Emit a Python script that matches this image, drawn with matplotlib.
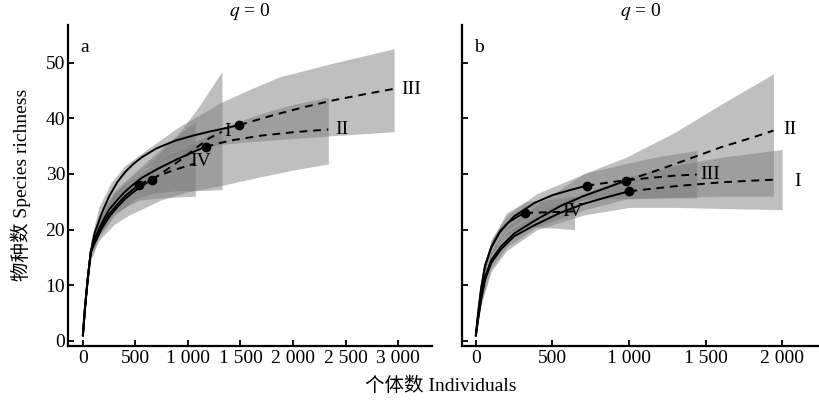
import numpy as np
import matplotlib
matplotlib.use('Agg')
import matplotlib.pyplot as plt

plt.rcParams['font.family'] = ['Liberation Serif', 'Noto Sans CJK SC']
plt.rcParams['mathtext.fontset'] = 'stix'

# ---- panel a (q = 0) ----
# rarefaction (solid) up to the observed sample, extrapolation (dashed) to 2x
a_I_rx = [0, 20, 45, 75, 110, 180, 250, 330, 400, 470, 535, 600, 662]
a_I_ry = [1, 6, 11, 16, 17.5, 20.2, 22.3, 24.1, 25.5, 26.6, 27.5, 28.3, 29.0]
a_I_ex = [662, 800, 950, 1100, 1200, 1324]
a_I_ey = [29.0, 30.8, 32.8, 35.0, 36.4, 37.6]

a_II_rx = [0, 20, 45, 75, 110, 180, 250, 330, 400, 480, 560, 720, 880, 1030, 1168]
a_II_ry = [1, 6, 11, 16, 18.3, 21.2, 23.6, 25.4, 26.8, 28.1, 29.3, 31.0, 32.5, 33.8, 34.9]
a_II_ex = [1168, 1400, 1700, 2000, 2336]
a_II_ey = [34.9, 36.0, 36.9, 37.5, 38.0]

a_III_rx = [0, 20, 45, 75, 110, 180, 250, 330, 400, 480, 560, 700, 880, 1050, 1200, 1350, 1490]
a_III_ry = [1, 6, 11, 16, 19.3, 23.0, 26.0, 28.6, 30.3, 31.8, 33.0, 34.6, 36.0, 36.9, 37.6, 38.2, 38.8]
a_III_ex = [1490, 1800, 2100, 2400, 2700, 2962]
a_III_ey = [38.8, 40.5, 42.0, 43.3, 44.4, 45.3]

a_IV_rx = [0, 20, 45, 75, 110, 180, 250, 330, 400, 470, 535]
a_IV_ry = [1, 6, 11, 16, 17.8, 20.7, 22.8, 24.6, 26.0, 27.1, 28.1]
a_IV_ex = [535, 700, 850, 1000, 1070]
a_IV_ey = [28.1, 29.5, 30.6, 31.5, 31.9]

# confidence bands
a_I_bx = [0, 45, 75, 150, 300, 500, 662, 900, 1100, 1324]
a_I_lo = [1, 10, 15, 18.5, 22.5, 25.5, 26.5, 27.0, 27.0, 27.2]
a_I_hi = [1, 12, 17.5, 22, 26.5, 30, 32.5, 37, 42, 48.4]

a_II_bx = [0, 45, 75, 150, 300, 427, 740, 1000, 1310, 1690, 2000, 2336]
a_II_lo = [1, 10, 14.5, 18, 21, 22.5, 25.3, 26.8, 27.9, 29.5, 30.7, 31.8]
a_II_hi = [1, 12, 17, 21.5, 26.5, 28.5, 32.5, 35, 38.3, 40.8, 42.5, 43.8]

a_III_bx = [0, 45, 75, 150, 266, 400, 580, 900, 1310, 1600, 1880, 2400, 2962]
a_III_lo = [1, 11, 16, 20.5, 25, 28, 31, 33.5, 35.3, 35.8, 36.2, 36.9, 37.6]
a_III_hi = [1, 12.5, 18, 24, 28.4, 31.5, 34, 38.3, 42.8, 45.3, 47.5, 50, 52.5]

a_IV_bx = [0, 45, 75, 150, 300, 535, 800, 1070]
a_IV_lo = [1, 10, 15, 19, 23, 25.3, 25.8, 26.0]
a_IV_hi = [1, 12, 17.5, 22.5, 27, 31, 35.5, 39.4]

a_obs_x = [662, 1168, 1490, 535]
a_obs_y = [29.0, 34.9, 38.8, 28.1]
a_lab = ['I', 'II', 'III', 'IV']
a_lab_x = [1377, 2468, 3124, 1120]
a_lab_y = [37.6, 38.0, 45.1, 32.3]

# ---- panel b (q = 0) ----
b_I_rx = [0, 15, 35, 60, 100, 165, 250, 383, 549, 700, 850, 1002]
b_I_ry = [1, 4, 7.5, 11, 14, 16.5, 18.8, 20.8, 23.0, 24.6, 25.8, 26.9]
b_I_ex = [1002, 1300, 1600, 1800, 1975]
b_I_ey = [26.9, 27.8, 28.5, 28.8, 29.0]

b_II_rx = [0, 15, 35, 60, 100, 165, 250, 383, 549, 700, 850, 980]
b_II_ry = [1, 4, 8, 11.5, 14.5, 17, 19.3, 21.6, 24.2, 26.0, 27.5, 28.8]
b_II_ex = [980, 1200, 1400, 1600, 1800, 1943]
b_II_ey = [28.8, 30.8, 32.8, 34.8, 36.5, 37.8]

b_III_rx = [0, 15, 35, 60, 100, 160, 250, 383, 500, 601, 723]
b_III_ry = [1, 5, 9.5, 13.5, 16.8, 19.8, 22.4, 24.8, 26.2, 27.0, 27.9]
b_III_ex = [723, 900, 1100, 1300, 1442]
b_III_ey = [27.9, 28.6, 29.2, 29.7, 29.9]

b_IV_rx = [0, 15, 35, 60, 100, 150, 209, 270, 322]
b_IV_ry = [1, 5, 9.5, 13.5, 16.8, 19.3, 21.2, 22.3, 23.0]
b_IV_ex = [322, 450, 550, 644]
b_IV_ey = [23.0, 23.1, 23.2, 23.3]

b_I_bx = [0, 35, 100, 200, 400, 700, 1002, 1300, 1600, 2000]
b_I_lo = [1, 6.5, 12.5, 16.2, 20, 22.6, 24, 24, 23.8, 23.6]
b_I_hi = [1, 8.5, 15.5, 19.5, 23, 26.5, 29.5, 31.5, 33, 34.4]

b_II_bx = [0, 35, 100, 200, 400, 700, 980, 1300, 1600, 1943]
b_II_lo = [1, 7, 13, 16.8, 20.5, 23.5, 25.5, 25.8, 26, 26]
b_II_hi = [1, 9, 16, 20.5, 24.5, 30, 33, 37.5, 42.5, 48]

b_III_bx = [0, 35, 100, 200, 400, 723, 1000, 1200, 1442]
b_III_lo = [1, 8.5, 15.5, 20, 23, 25.5, 25.6, 25.7, 25.7]
b_III_hi = [1, 10.5, 18.2, 22.5, 26.5, 30.2, 32, 33.2, 34.2]

b_IV_bx = [0, 35, 100, 200, 322, 500, 644]
b_IV_lo = [1, 8.5, 15.5, 19, 20.5, 20.3, 20.0]
b_IV_hi = [1, 10.5, 18, 23, 25, 25.5, 26]

b_obs_x = [1002, 980, 723, 322]
b_obs_y = [26.9, 28.8, 27.9, 23.0]
b_lab = ['I', 'II', 'III', 'IV']
b_lab_x = [2098, 2052, 1530, 634]
b_lab_y = [28.6, 38.0, 29.9, 23.3]

y_ticks = [0, 10, 20, 30, 40, 50]
a_xticks = [0, 500, 1000, 1500, 2000, 2500, 3000]
a_xlabels = ['0', '500', '1 000', '1 500', '2 000', '2 500', '3 000']
b_xticks = [0, 500, 1000, 1500, 2000]
b_xlabels = ['0', '500', '1 000', '1 500', '2 000']

fig = plt.figure(figsize=(8.19, 4.07), dpi=100)
ax_a = fig.add_axes([0.083, 0.150, 0.4445, 0.789])
ax_b = fig.add_axes([0.564, 0.150, 0.436, 0.789])

band_col = '#7a7a7a'
band_alpha = 0.48


def draw(ax, bands, rares, exts, obs_x, obs_y, labs, lab_x, lab_y):
    for bx, lo, hi in bands:
        ax.fill_between(bx, lo, hi, color=band_col, alpha=band_alpha, lw=0)
    for rx, ry in rares:
        ax.plot(rx, ry, color='black', lw=1.4, solid_joinstyle='round')
    for ex, ey in exts:
        ax.plot(ex, ey, color='black', lw=1.4, ls=(0, (4, 3)))
    ax.plot(obs_x, obs_y, 'o', color='black', ms=6, ls='none')
    for t, x, y in zip(labs, lab_x, lab_y):
        ax.text(x, y, t, fontsize=14, ha='center', va='center')


draw(ax_a,
     [(a_I_bx, a_I_lo, a_I_hi), (a_II_bx, a_II_lo, a_II_hi),
      (a_III_bx, a_III_lo, a_III_hi), (a_IV_bx, a_IV_lo, a_IV_hi)],
     [(a_I_rx, a_I_ry), (a_II_rx, a_II_ry), (a_III_rx, a_III_ry), (a_IV_rx, a_IV_ry)],
     [(a_I_ex, a_I_ey), (a_II_ex, a_II_ey), (a_III_ex, a_III_ey), (a_IV_ex, a_IV_ey)],
     a_obs_x, a_obs_y, a_lab, a_lab_x, a_lab_y)

draw(ax_b,
     [(b_I_bx, b_I_lo, b_I_hi), (b_II_bx, b_II_lo, b_II_hi),
      (b_III_bx, b_III_lo, b_III_hi), (b_IV_bx, b_IV_lo, b_IV_hi)],
     [(b_I_rx, b_I_ry), (b_II_rx, b_II_ry), (b_III_rx, b_III_ry), (b_IV_rx, b_IV_ry)],
     [(b_I_ex, b_I_ey), (b_II_ex, b_II_ey), (b_III_ex, b_III_ey), (b_IV_ex, b_IV_ey)],
     b_obs_x, b_obs_y, b_lab, b_lab_x, b_lab_y)

for ax, xt, xl, lim, tag in [(ax_a, a_xticks, a_xlabels, (-142, 3323), 'a'),
                             (ax_b, b_xticks, b_xlabels, (-91, 2240), 'b')]:
    ax.set_xlim(*lim)
    ax.set_ylim(-0.9, 56.8)
    ax.set_xticks(xt)
    ax.set_xticklabels(xl)
    ax.set_yticks(y_ticks)
    for s in ['top', 'right']:
        ax.spines[s].set_visible(False)
    for s in ['left', 'bottom']:
        ax.spines[s].set_linewidth(1.6)
    ax.tick_params(direction='in', length=4, width=1.3, labelsize=14, pad=3)
    ax.set_title(r'$q$ = 0', fontsize=14, pad=6)
    ax.text(0.035, 0.93, tag, transform=ax.transAxes, fontsize=14,
            ha='left', va='center')

ax_b.tick_params(axis='y', labelleft=False)
ax_a.tick_params(axis='y', pad=2)

fig.text(0.538, 0.052, '个体数 Individuals', fontsize=14, ha='center', va='center')
fig.text(0.026, 0.545, '物种数 Species richness', fontsize=14, ha='center',
         va='center', rotation=90)

fig.savefig('out.png', dpi=100)
